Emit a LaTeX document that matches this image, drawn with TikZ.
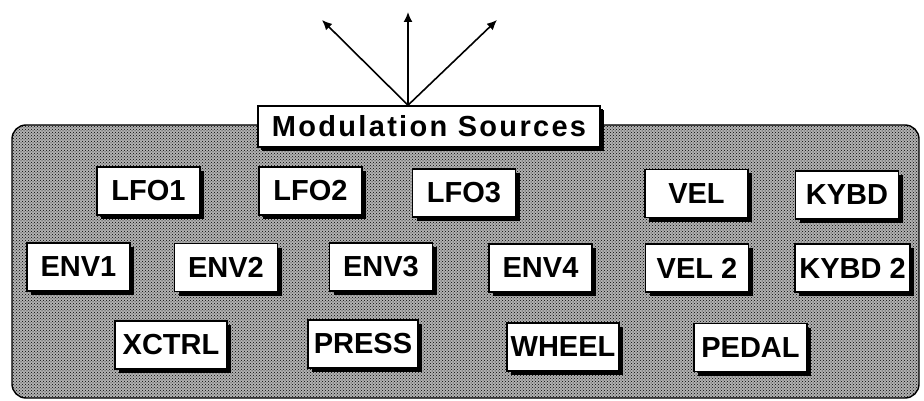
\documentclass[tikz,border=0pt]{standalone}
\usepackage{fontspec}
\setmainfont{Liberation Sans}
\newfontfamily\headfont[LetterSpace=8]{Liberation Sans}
\usepackage{tikz}
\usetikzlibrary{arrows.meta,positioning,shadows,patterns}
\tikzset{
  panel/.style={draw, line width=1.4pt, rounded corners=14pt,
                preaction={fill=black!30},
                pattern=crosshatch dots, pattern color=black},
  srcbox/.style={draw, line width=1.6pt, fill=white, inner sep=0pt,
                 font=\bfseries\fontsize{29}{31}\selectfont,
                 minimum width=103pt, minimum height=48pt,
                 drop shadow={opacity=1, fill=black, shadow xshift=4pt, shadow yshift=-4pt}},
  widebox/.style={srcbox, minimum width=112pt},
  heading/.style={srcbox, minimum width=342pt, minimum height=41pt,
                  font=\headfont\bfseries\fontsize{29}{31}\selectfont,
                  drop shadow={opacity=1, fill=black, shadow xshift=3pt, shadow yshift=-3pt}},
  link/.style={-{Latex[length=10pt,width=9pt]}, line width=1.6pt}
}

\begin{document}
\begin{tikzpicture}[x=1pt,y=-1pt]
  \useasboundingbox (0,0) rectangle (924,401);
  \draw[panel] (12,125) rectangle (919,398);
  \node[heading] (title) at (429,126.5) {Modulation Sources};
  % top row
  \node[srcbox] (lfo1) at (148.5,191) {LFO1};
  \node[srcbox] (lfo2) at (310.5,191) {LFO2};
  \node[srcbox] (lfo3) at (464,193) {LFO3};
  \node[srcbox] (vel) at (696.5,193.5) {VEL};
  \node[srcbox] (kybd) at (847,195) {KYBD};
  % middle row
  \node[srcbox] (env1) at (78.5,267) {ENV1};
  \node[srcbox] (env2) at (226,267.5) {ENV2};
  \node[srcbox] (env3) at (381,267) {ENV3};
  \node[srcbox] (env4) at (540.5,268) {ENV4};
  \node[srcbox] (vel2) at (697,268) {VEL 2};
  \node[srcbox, minimum width=115pt] (kybd2) at (852.5,268) {KYBD 2};
  % bottom row
  \node[widebox] (xctrl) at (171,345) {XCTRL};
  \node[widebox, minimum width=110pt] (press) at (363,344) {PRESS};
  \node[widebox] (wheel) at (563,347) {WHEEL};
  \node[widebox, minimum width=113pt] (pedal) at (750.5,347.5) {PEDAL};
  % outputs
  \coordinate (hub) at ([xshift=-21pt]title.north);
  \coordinate (outl) at (322,20);
  \coordinate (outc) at (408,12);
  \coordinate (outr) at (497,20);
  \draw[link] (hub) -- (outl);
  \draw[link] (hub) -- (outc);
  \draw[link] (hub) -- (outr);
\end{tikzpicture}
\end{document}
